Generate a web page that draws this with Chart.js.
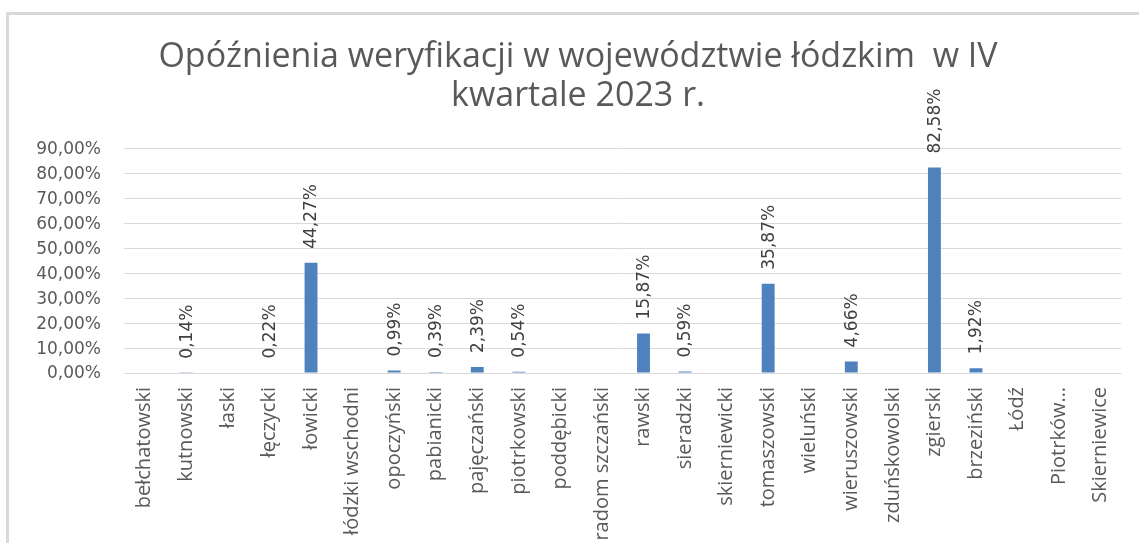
<!DOCTYPE html>
<html><head><meta charset="utf-8">
<script src="https://cdn.jsdelivr.net/npm/chart.js@4/dist/chart.umd.min.js"></script>
<style>
html,body{margin:0;padding:0;background:#fff;overflow:hidden;width:1139px;height:543px;}
#frame{position:absolute;left:6px;top:12px;width:1200px;height:600px;border-left:3px solid #d9d9d9;border-top:3px solid #d9d9d9;}
#wrap{position:absolute;left:0;top:0;width:1139px;height:543px;}
</style></head><body>
<div id="frame"></div>
<div id="wrap"><canvas id="c"></canvas></div>
<script>
const categories = ['bełchatowski','kutnowski','łaski','łęczycki','łowicki','łódzki wschodni','opoczyński','pabianicki','pajęczański','piotrkowski','poddębicki','radom szczański','rawski','sieradzki','skierniewicki','tomaszowski','wieluński','wieruszowski','zduńskowolski','zgierski','brzeziński','Łódź','Piotrków…','Skierniewice'];
const values = [null,0.14,null,0.22,44.27,null,0.99,0.39,2.39,0.54,null,null,15.87,0.59,null,35.87,null,4.66,null,82.58,1.92,null,null,null];
const yTickValues = [0,10,20,30,40,50,60,70,80,90];
const titleLines = ['Opóźnienia weryfikacji w województwie łódzkim  w IV','kwartale 2023 r.'];

const fmt = v => v.toFixed(2).replace('.', ',') + '%';

const valueLabels = {
  id: 'valueLabels',
  afterDatasetsDraw(chart) {
    const ctx = chart.ctx;
    const meta = chart.getDatasetMeta(0);
    ctx.save();
    ctx.font = '17px "DejaVu Sans"';
    ctx.fillStyle = '#404040';
    ctx.textAlign = 'left';
    ctx.textBaseline = 'middle';
    meta.data.forEach((bar, i) => {
      const v = values[i];
      if (v === null || v === undefined) return;
      ctx.save();
      ctx.translate(bar.x + 1, bar.y - 14);
      ctx.rotate(-Math.PI / 2);
      ctx.fillText(fmt(v), 0, 0);
      ctx.restore();
    });
    ctx.restore();
  }
};

const yTickLabels = {
  id: 'yTickLabels',
  afterDraw(chart) {
    const ctx = chart.ctx;
    const y = chart.scales.y;
    ctx.save();
    ctx.font = '17px "DejaVu Sans"';
    ctx.fillStyle = '#595959';
    ctx.textAlign = 'right';
    ctx.textBaseline = 'middle';
    yTickValues.forEach(v => {
      ctx.fillText(fmt(v), chart.chartArea.left - 23, y.getPixelForValue(v) + 1);
    });
    ctx.restore();
  }
};

new Chart(document.getElementById('c'), {
  type: 'bar',
  data: {
    labels: categories,
    datasets: [{
      data: values,
      backgroundColor: '#4f81bd',
      borderWidth: 0,
      barPercentage: 0.31,
      categoryPercentage: 1
    }]
  },
  options: {
    responsive: true,
    maintainAspectRatio: false,
    animation: false,
    layout: { padding: { left: 34, right: 17, top: 0, bottom: 0 } },
    plugins: {
      legend: { display: false },
      tooltip: { enabled: false },
      title: {
        display: true,
        text: titleLines,
        color: '#595959',
        font: { family: '"Open Sans"', size: 34, weight: 'normal', lineHeight: 1.147 },
        padding: { top: 38, bottom: 33 }
      }
    },
    scales: {
      x: {
        grid: { display: false, drawTicks: false },
        border: { display: false },
        ticks: {
          autoSkip: false,
          maxRotation: 90,
          minRotation: 90,
          padding: 14,
          color: '#595959',
          font: { family: '"Open Sans"', size: 20 }
        },
        afterFit: s => { s.height = 170; }
      },
      y: {
        min: 0,
        max: 90,
        afterBuildTicks: s => { s.ticks = yTickValues.map(v => ({ value: v })); },
        grid: { color: '#d9d9d9', lineWidth: 1, drawTicks: false },
        border: { display: false },
        ticks: { display: false },
        afterFit: s => { s.width = 90; }
      }
    }
  },
  plugins: [valueLabels, yTickLabels]
});
</script>
</body></html>
